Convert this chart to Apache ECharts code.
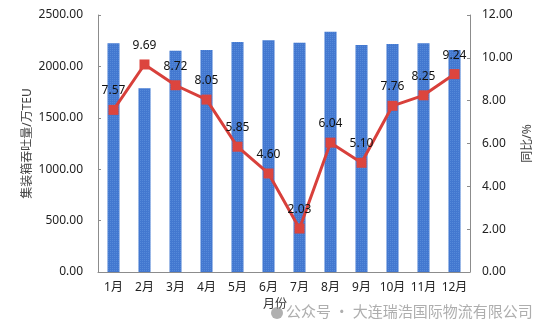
<!DOCTYPE html>
<html>
<head>
<meta charset="utf-8">
<script src="https://cdn.jsdelivr.net/npm/echarts@6/dist/echarts.min.js"></script>
<style>
  html, body { margin: 0; padding: 0; background: #fff; }
  #chart { width: 554px; height: 336px; }
</style>
</head>
<body>
<div id="chart"></div>
<script>
// Monthly container throughput (10k TEU) and year-on-year growth (%)
const months = ['1月', '2月', '3月', '4月', '5月', '6月', '7月', '8月', '9月', '10月', '11月', '12月'];
const throughput = [2225, 1787, 2153, 2160, 2237, 2254, 2230, 2338, 2208, 2218, 2225, 2160];
const growth = [7.57, 9.69, 8.72, 8.05, 5.85, 4.60, 2.03, 6.04, 5.10, 7.76, 8.25, 9.24];
const leftTicks = { min: 0, max: 2500, interval: 500 };
const rightTicks = { min: 0, max: 12, interval: 2 };

const font = '"Noto Sans", "Noto Sans CJK SC", sans-serif';
const axisGrey = '#8c8c8c';

const chart = echarts.init(document.getElementById('chart'), null, { renderer: 'canvas' });

chart.setOption({
  animation: false,
  textStyle: { fontFamily: font },
  grid: { left: 98, right: 84, top: 15, bottom: 64 },
  xAxis: {
    type: 'category',
    data: months,
    boundaryGap: true,
    name: '月份',
    nameLocation: 'middle',
    nameGap: 27,
    nameMoveOverlap: false,
    nameTextStyle: { color: '#333', fontSize: 12, fontFamily: font, padding: [0, 18, 0, 0] },
    axisLine: { lineStyle: { color: axisGrey, width: 1 } },
    axisTick: { inside: true, length: 4, lineStyle: { color: axisGrey } },
    axisLabel: { color: '#222', fontSize: 12, margin: 10, interval: 0, fontFamily: font }
  },
  yAxis: [
    {
      type: 'value',
      min: leftTicks.min, max: leftTicks.max, interval: leftTicks.interval,
      name: '集装箱吞吐量/万TEU',
      nameLocation: 'middle',
      nameGap: 64,
      nameMoveOverlap: false,
      nameRotate: 90,
      nameTextStyle: { color: '#444', fontSize: 12, fontFamily: font },
      axisLine: { show: true, lineStyle: { color: axisGrey, width: 1 } },
      axisTick: { show: true, inside: true, length: 3, lineStyle: { color: axisGrey } },
      splitLine: { show: false },
      axisLabel: {
        color: '#222', fontSize: 12, margin: 15, fontFamily: font,
        formatter: v => v.toFixed(2)
      }
    },
    {
      type: 'value',
      position: 'right',
      min: rightTicks.min, max: rightTicks.max, interval: rightTicks.interval,
      name: '同比/%',
      nameLocation: 'middle',
      nameGap: 52,
      nameMoveOverlap: false,
      nameRotate: 90,
      nameTextStyle: { color: '#444', fontSize: 12, fontFamily: font },
      axisLine: { show: true, lineStyle: { color: axisGrey, width: 1 } },
      axisTick: { show: true, inside: true, length: 3, lineStyle: { color: axisGrey } },
      splitLine: { show: false },
      axisLabel: {
        color: '#222', fontSize: 12, margin: 12, fontFamily: font,
        formatter: v => v.toFixed(2)
      }
    }
  ],
  series: [
    {
      name: '集装箱吞吐量',
      type: 'bar',
      yAxisIndex: 0,
      data: throughput,
      barWidth: 12,
      itemStyle: {
        color: '#4378d0',
        decal: {
          symbol: 'rect',
          symbolSize: 1,
          dashArrayX: [1, 1],
          dashArrayY: [1, 1],
          color: 'rgba(120,170,235,0.35)'
        }
      }
    },
    {
      name: '同比',
      type: 'line',
      yAxisIndex: 1,
      data: growth,
      symbol: 'rect',
      symbolSize: 10,
      lineStyle: { color: '#d8403b', width: 3 },
      itemStyle: { color: '#dc453e' },
      label: {
        show: true,
        position: 'top',
        distance: 8,
        color: '#111',
        fontSize: 12,
        fontFamily: font,
        formatter: p => p.value.toFixed(2)
      },
      z: 5
    }
  ],
  graphic: [
    {
      type: 'circle',
      shape: { cx: 277, cy: 313, r: 6 },
      style: { fill: 'rgba(150,150,150,0.75)' },
      z: 10
    },
    {
      type: 'text',
      left: 286,
      top: 304,
      style: {
        text: '公众号 · 大连瑞浩国际物流有限公司',
        fill: 'rgba(160,160,160,0.85)',
        font: '15px "Noto Sans CJK SC", sans-serif'
      },
      z: 10
    }
  ]
});
</script>
</body>
</html>
